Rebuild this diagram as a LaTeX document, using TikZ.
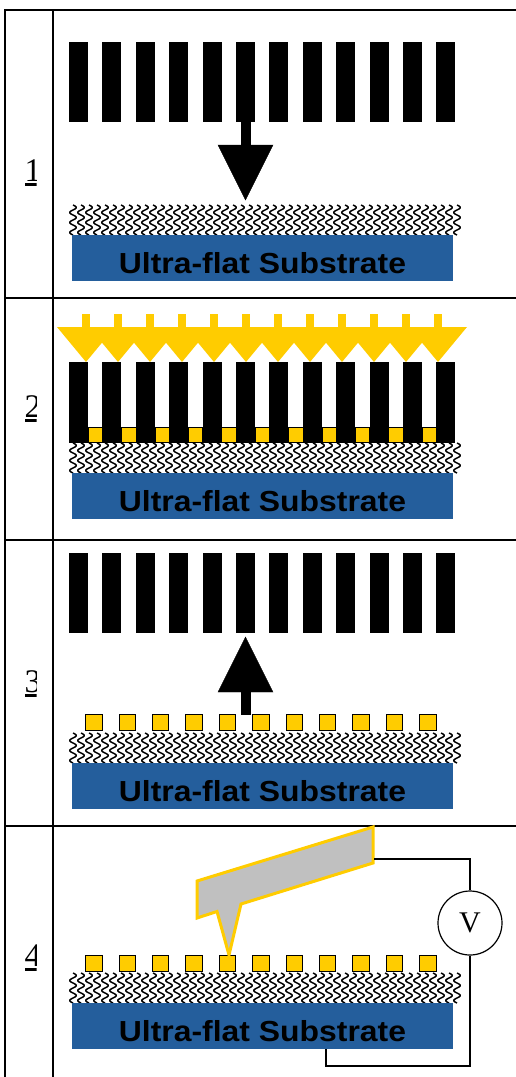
\documentclass[tikz,border=0pt]{standalone}
\usepackage{fontspec}
\setmainfont{Liberation Serif}
\setsansfont{Liberation Sans}
\usetikzlibrary{calc}
\definecolor{substrateblue}{RGB}{36,94,156}
\definecolor{gold}{RGB}{255,204,0}
\definecolor{cantilever}{RGB}{192,192,192}
% row of stamp bars between y=#1 and y=#2
\def\stamp(#1:#2){\foreach \i in {0,...,11} {\draw[fill=black, draw=none] ({69+33.4*\i}, #1) rectangle ({88+33.4*\i}, #2);}}
% wavy monolayer from y=#1 down, blue substrate below it, label node #2
\def\substrate(#1)[#2]{%
	\foreach \i in {0,...,48} {\draw[line width=1.5pt] plot[domain=0:30, samples=31, smooth, variable=\t] ({73+8*\i+3.3*sin(36*\t)}, {#1+\t});}
	\draw[fill=substrateblue, draw=none] (72, #1+30) rectangle (453, #1+76);
	\node[anchor=base, inner sep=0, xscale=1.1, font=\fontsize{29}{30}\selectfont\sffamily\bfseries] (#2) at (262.5, #1+68) {Ultra-flat Substrate};
}
% gold particles sitting on the monolayer, top edge y=#1
\def\particles(#1){\foreach \i in {0,...,10} {\draw[fill=gold, line width=0.8pt] ({85.5+33.4*\i}, #1) rectangle ({102+33.4*\i}, #1+16);}}

\begin{document}
\begin{tikzpicture}[x=1pt, y=-1pt]
			\useasboundingbox (0, 0) rectangle (516, 1077);
			%%%%% TABLE %%%%%
			
			\draw[line width=1.5pt] (516, 10) -- (5, 10) -- (5, 1077);
			\draw[line width=1.5pt] (53, 10) -- (53, 1077);
			\foreach \rowline in {298, 540, 826} {\draw[line width=1.5pt] (5, \rowline) -- (516, \rowline);}
			
			\begin{scope}
				\clip (5, 10) rectangle (36.5, 1077);
				\foreach \n/\b in {1/181, 2/417, 3/692, 4/966} {
					\node[anchor=base west, inner sep=0, font=\fontsize{33}{36}\selectfont] (num\n) at (24.5, \b) {\n};
					\fill (25, \b+1.5) rectangle (40, \b+5);
				}
			\end{scope}
			
			%%%%% STEP 1 %%%%%
			
			\stamp(42:122)
			\draw[fill=black] (241, 122) rectangle (250, 146);
			\draw[fill=black] (218, 145) -- (273, 145) -- (245.5, 200) -- cycle;
			\substrate(205)[sub1]
			
			%%%%% STEP 2 %%%%%
			
			\foreach \i in {0,...,11} {
				\fill[gold] ({82+32*\i}, 314) rectangle ({90+32*\i}, 328);
				\fill[gold] ({57+32*\i}, 327) -- ({115+32*\i}, 327) -- ({86+32*\i}, 362) -- cycle;
			}
			\stamp(362:443)
			\foreach \i in {0,...,10} {\draw[fill=gold, line width=0.6pt] ({88+33.4*\i}, 427) rectangle ({102.4+33.4*\i}, 442);}
			\substrate(443)[sub2]
			
			%%%%% STEP 3 %%%%%
			
			\stamp(553:633)
			\draw[fill=black] (241, 691) rectangle (250, 714);
			\draw[fill=black] (218, 692) -- (273, 692) -- (245.5, 637) -- cycle;
			\particles(714)
			\substrate(733)[sub3]
			
			%%%%% STEP 4 %%%%%
			
			\particles(955)
			\substrate(973)[sub4]
			
			\draw[fill=cantilever, draw=gold, line width=3pt] (197, 881) -- (373, 827) -- (373, 863) -- (241, 904) -- (229, 955) -- (217, 911.5) -- (197, 918) -- cycle;
			
			\coordinate (beamend) at (374, 859);
			\node[circle, draw, line width=1.2pt, minimum size=64pt, inner sep=0, font=\fontsize{30}{32}\selectfont] (volt) at (470, 923) {V};
			\coordinate (wirecorner) at (470, 1066);
			\coordinate (contact) at (326, 1049);
			\draw[line width=1.3pt] (beamend) -| (volt.north);
			\draw[line width=1.3pt] (volt.south) -- (wirecorner) -| (contact);
			
			%%%%% END %%%%%
\end{tikzpicture}
\end{document}
